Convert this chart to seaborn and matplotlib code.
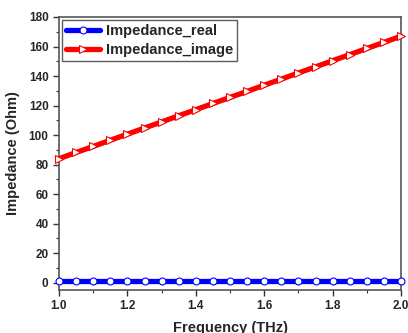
import matplotlib
matplotlib.use("Agg")
import matplotlib.pyplot as plt
import seaborn as sns
import pandas as pd
from matplotlib.ticker import MultipleLocator

freq = [1.00, 1.05, 1.10, 1.15, 1.20, 1.25, 1.30, 1.35, 1.40, 1.45, 1.50,
        1.55, 1.60, 1.65, 1.70, 1.75, 1.80, 1.85, 1.90, 1.95, 2.00]
z_real = [1.0] * 21
z_image = [84.0, 88.2, 92.3, 96.5, 100.6, 104.8, 108.9, 113.1, 117.2, 121.4, 125.5,
           129.6, 133.8, 137.9, 142.1, 146.2, 150.4, 154.5, 158.7, 162.8, 167.0]

sns.set_style("ticks")
plt.rcParams['font.family'] = ['Liberation Sans', 'DejaVu Sans']
plt.rcParams['font.weight'] = 'bold'

fig = plt.figure(figsize=(4.08, 3.33), dpi=100)
ax = fig.add_axes([0.1446, 0.129, 0.8384, 0.82])

df = pd.DataFrame({"f": freq, "real": z_real, "image": z_image})
sns.lineplot(data=df, x="f", y="real", ax=ax, color="#0000ff", lw=3.8,
             marker="o", ms=5, mfc="white", mec="#0000ff", mew=0.8,
             label="Impedance_real", clip_on=False, zorder=3)
sns.lineplot(data=df, x="f", y="image", ax=ax, color="#ff0000", lw=3.8,
             marker=">", ms=5.5, mfc="white", mec="#ff0000", mew=0.8,
             label="Impedance_image", clip_on=False, zorder=3)

ax.set_xlim(1.0, 2.0)
ax.set_ylim(-5, 180)
ax.xaxis.set_major_locator(MultipleLocator(0.2))
ax.xaxis.set_minor_locator(MultipleLocator(0.1))
ax.yaxis.set_major_locator(MultipleLocator(20))
ax.yaxis.set_minor_locator(MultipleLocator(10))
ax.xaxis.set_major_formatter(matplotlib.ticker.FormatStrFormatter('%.1f'))
ax.tick_params(which='major', direction='out', length=4, width=1.0, labelsize=8.5, color='#333333')
ax.tick_params(which='minor', direction='out', length=2.5, width=0.8, color='#333333')
for s in ax.spines.values():
    s.set_color('#555555')
    s.set_linewidth(1.2)

ax.set_xlabel("Frequency (THz)", fontsize=10.5, fontweight='bold', labelpad=6)
ax.set_ylabel("Impedance (Ohm)", fontsize=10.5, fontweight='bold', labelpad=6)

leg = ax.legend(loc='upper left', frameon=True, fancybox=False,
                edgecolor='#333333', handlelength=2.3, borderpad=0.3,
                labelspacing=0.3, handletextpad=0.4, borderaxespad=0.2,
                prop={'weight': 'bold', 'size': 10.5})
leg.get_frame().set_linewidth(1.0)

fig.savefig("out.png", dpi=100)
